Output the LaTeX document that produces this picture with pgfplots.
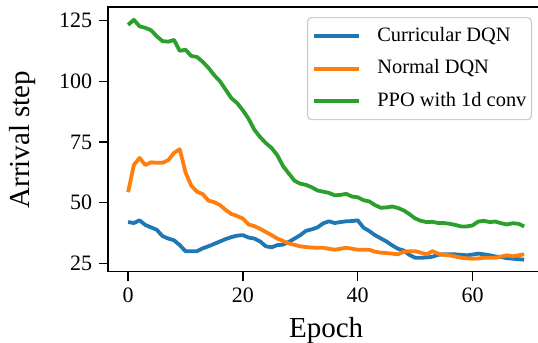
\documentclass[border=0pt]{standalone}
\usepackage{fontspec}
\setmainfont{Liberation Serif}
\usepackage{pgfplots}
\pgfplotsset{compat=1.18}
\usepackage{pgfplotstable}
\definecolor{tabblue}{HTML}{1F77B4}
\definecolor{taborange}{HTML}{FF7F0E}
\definecolor{tabgreen}{HTML}{2CA02C}

\pgfplotstableread{
x cur nor ppo
0 42.0 54.3 123.2
1 41.6 65.5 125.3
2 42.7 68.4 122.6
3 40.8 65.5 122.0
4 39.8 66.6 121.0
5 38.8 66.4 118.5
6 36.2 66.4 116.5
7 35.2 67.5 116.3
8 34.5 70.5 117.0
9 32.5 72.0 112.5
10 30.0 62.5 113.0
11 30.0 57.0 110.4
12 30.0 54.5 110.0
13 31.2 53.5 108.0
14 32.0 50.8 105.5
15 33.0 50.2 102.5
16 34.0 49.0 100.0
17 35.0 47.0 96.5
18 35.8 45.3 93.0
19 36.4 44.5 91.0
20 36.6 43.4 88.0
21 35.6 41.0 84.5
22 35.2 40.3 80.0
23 34.0 39.2 77.0
24 32.0 37.9 74.5
25 31.6 36.6 72.5
26 32.5 35.2 69.5
27 32.7 34.2 65.0
28 33.8 33.2 62.0
29 35.2 32.6 59.0
30 36.6 32.0 57.8
31 38.4 31.7 57.3
32 39.0 31.5 56.3
33 39.8 31.4 55.0
34 41.5 31.4 54.5
35 42.3 31.0 54.0
36 41.6 30.6 53.0
37 42.0 31.0 53.2
38 42.3 31.4 53.6
39 42.4 31.0 52.5
40 42.7 30.6 52.2
41 39.7 30.6 51.0
42 38.3 30.6 50.5
43 36.6 29.8 49.0
44 35.3 29.4 47.9
45 34.0 29.2 48.0
46 32.4 29.0 48.4
47 31.0 28.7 47.8
48 30.3 29.8 46.8
49 28.5 30.0 45.3
50 27.3 30.0 43.5
51 27.3 29.4 42.5
52 27.4 28.7 42.0
53 27.7 30.0 42.1
54 28.5 29.0 41.6
55 28.7 28.5 41.6
56 28.7 28.3 41.3
57 28.7 27.8 40.8
58 28.5 27.3 40.2
59 28.3 27.1 40.2
60 28.6 26.9 40.6
61 29.0 27.0 42.2
62 28.7 27.3 42.5
63 28.3 27.3 42.0
64 27.8 27.3 42.2
65 27.6 27.8 41.5
66 27.1 28.3 41.0
67 26.9 27.9 41.5
68 26.7 28.3 41.3
69 26.5 28.7 40.2
}\data

\begin{document}
\begin{tikzpicture}
\begin{axis}[
  at={(0,0)}, anchor=south west,
  scale only axis, width=217.85pt, height=132.2pt,
  xmin=-3.45, xmax=72.45, ymin=21.55, ymax=130.45,
  xtick={0,20,40,60}, ytick={25,50,75,100,125},
  xtick pos=lower, ytick pos=left,
  tick align=outside, major tick length=4.5pt,
  minor tick num=0,
  tick style={black, line width=0.7pt},
  axis line style={black, line width=0.8pt},
  ticklabel style={font=\fontsize{11}{13}\selectfont},
  /pgf/number format/assume math mode=true,
  xlabel={Epoch}, ylabel={Arrival step},
  every axis x label/.style={at={(axis description cs:0.5,0)}, yshift=-29.4pt, anchor=center, font=\fontsize{14.5}{16}\selectfont},
  every axis y label/.style={at={(axis description cs:0,0.5)}, xshift=-42.9pt, rotate=90, anchor=center, font=\fontsize{14.5}{16}\selectfont},
  legend cell align=left,
  legend image code/.code={\draw[#1, line width=1.9pt] (0pt,0pt) -- (22.5pt,0pt);},
  legend style={at={(0.9725,0.9633)}, anchor=north east,
    draw=black!20, line width=0.6pt, rounded corners=2pt,
    fill=white, fill opacity=0.8, text opacity=1,
    font=\fontsize{10.2}{12}\selectfont,
    inner xsep=2.5pt, inner ysep=4.25pt, row sep=6.25pt,
    nodes={inner sep=0pt, text height=7.5pt, text depth=2.5pt},
    /tikz/every odd column/.append style={column sep=8pt}},
]
\addplot[tabblue, line width=1.9pt, line join=round] table[x=x, y=cur] {\data};
\addlegendentry{Curricular DQN}
\addplot[taborange, line width=1.9pt, line join=round] table[x=x, y=nor] {\data};
\addlegendentry{Normal DQN}
\addplot[tabgreen, line width=1.9pt, line join=round] table[x=x, y=ppo] {\data};
\addlegendentry{PPO with 1d conv}
\end{axis}
\pgfresetboundingbox
\useasboundingbox (-54.15pt,-35.65pt) rectangle (214.85pt,135.85pt);
\end{tikzpicture}
\end{document}
